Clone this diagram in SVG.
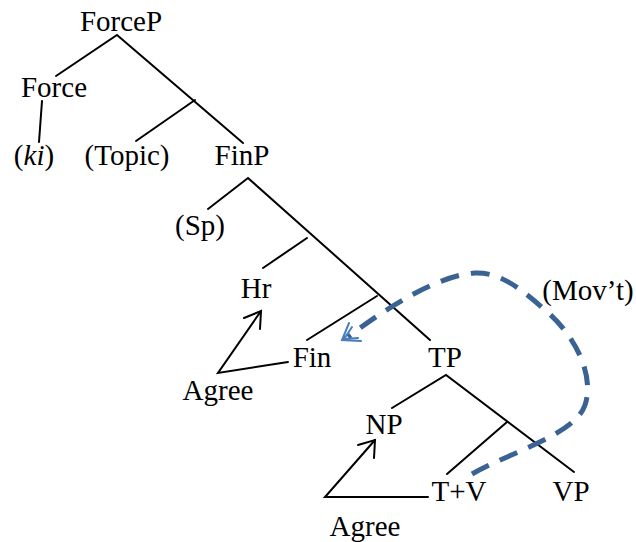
<svg xmlns="http://www.w3.org/2000/svg" width="636" height="542" viewBox="0 0 636 542">
<defs>
<style>
text{font-family:"Liberation Serif","Times New Roman",serif;font-size:29px;fill:#000;text-anchor:middle}
.e{stroke:#000;stroke-width:2;fill:none;stroke-linecap:round}
.mv{stroke:#3a6293;stroke-width:5;fill:none;stroke-dasharray:19 12}
.mh{stroke:#4a7ebb;stroke-width:2;fill:none;stroke-linecap:round}
</style>
</defs>
<rect width="636" height="542" fill="#fff"/>
<g id="connectors">
<path class="e" d="M56,76 L117,35 L243,143"/>
<path class="e" d="M195,100 L136,141"/>
<path class="e" d="M42,101 L39,142"/>
<path class="e" d="M208,209 L248,178 L430,340"/>
<path class="e" d="M307,238 L263,268"/>
<path class="e" d="M377,296 L307,340"/>
<path class="e" d="M392,408 L446,375 L574,472"/>
<path class="e" d="M507,422 L447,474"/>
<path class="e" d="M288,362 L218,373 L261,311"/>
<path class="e" d="M244,318 L261,311 L260,329"/>
<path class="e" d="M428,497 L325,497 L375,440"/>
<path class="e" d="M358,445 L375,440 L374,458"/>
<path class="mv" d="M472,474 C510,452 575,435 585,405 C595,375 575,335 545,310 C520,288 500,272 475,273 C440,275 390,305 348,337"/>
<path class="mh" d="M349,323 L342,340 L361,341 M352,327 L344,339 L358,338"/>
</g>
<g id="n-forcep"><text x="121" y="31">ForceP</text></g>
<g id="n-force"><text x="54" y="97">Force</text></g>
<g id="n-ki"><text x="34" y="165">(<tspan font-style="italic">ki</tspan>)</text></g>
<g id="n-topic"><text x="127" y="165">(Topic)</text></g>
<g id="n-finp"><text x="242" y="165">FinP</text></g>
<g id="n-sp"><text x="200" y="235">(Sp)</text></g>
<g id="n-hr"><text x="256" y="298">Hr</text></g>
<g id="n-fin"><text x="312" y="367">Fin</text></g>
<g id="n-tp"><text x="445" y="367">TP</text></g>
<g id="n-agree1"><text x="218" y="400">Agree</text></g>
<g id="n-np"><text x="384" y="434">NP</text></g>
<g id="n-tv"><text x="459" y="501">T+V</text></g>
<g id="n-vp"><text x="571" y="501">VP</text></g>
<g id="n-agree2"><text x="365" y="536">Agree</text></g>
<g id="n-movt"><text x="588" y="300">(Mov’t)</text></g>
</svg>
